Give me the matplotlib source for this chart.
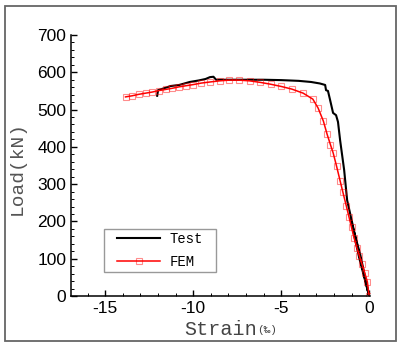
import matplotlib.pyplot as plt
from matplotlib.patches import Rectangle
from matplotlib.ticker import MultipleLocator

plt.rcParams['axes.unicode_minus'] = False

# Test curve (strain in permille, load in kN)
test_strain = [0.0, -0.55, -1.05, -0.5, 0.0, -0.6, -1.25, -1.42, -1.65, -1.77,
               -1.88, -2.05, -2.22, -2.34, -2.45, -2.5, -2.8, -3.3, -4.0, -5.0, -6.0,
               -7.0, -8.0, -8.7, -8.85, -9.05, -9.3, -9.7, -10.2, -10.8, -11.3, -11.6,
               -12.0, -12.05]
test_load = [0, 100, 205, 110, 0, 120, 257, 338, 418, 467,
             485, 491, 526, 550, 552, 566, 570, 574, 577, 579, 580,
             580, 580, 580, 588, 587, 582, 578, 574, 566, 563, 558,
             552, 537]

# FEM curve
fem_strain = [-13.85, -13.47, -13.09, -12.71, -12.33, -11.95, -11.57, -11.2, -10.8, -10.4,
              -10.0, -9.55, -9.05, -8.5, -7.95, -7.4, -6.8, -6.2, -5.6, -5.0, -4.4,
              -3.75, -3.2, -2.9, -2.6, -2.39, -2.2, -2.04, -1.85, -1.65, -1.5, -1.3,
              -1.15, -1.0, -0.85, -0.7, -0.55, -0.4, -0.25, -0.1, 0.0]
fem_load = [534, 537, 541, 544, 547, 551, 554, 557, 561, 564,
            567, 571, 574, 577, 579, 579, 577, 573, 568, 562, 555,
            544, 528, 504, 469, 434, 406, 383, 348, 309, 280, 242,
            213, 184, 155, 130, 107, 85, 62, 38, 0]

W, H = 397, 342
fig = plt.figure(figsize=(W / 100, H / 100), dpi=100)
ax = fig.add_axes([71 / W, 1 - 296 / H, (370 - 71) / W, (296 - 35) / H])

ax.plot(test_strain, test_load, color='black', lw=1.5, label='Test')
ax.plot(fem_strain, fem_load, color='red', lw=1.1, marker='s', ms=4.2,
        mfc='none', mec=(1, 0, 0, 0.45), mew=0.8, label='FEM')

ax.set_xlim(-16.95, 0.05)
ax.set_ylim(0, 700)
ax.xaxis.set_major_locator(MultipleLocator(5))
ax.xaxis.set_minor_locator(MultipleLocator(1))
ax.yaxis.set_major_locator(MultipleLocator(100))
ax.yaxis.set_minor_locator(MultipleLocator(20))

for s in ['top', 'right']:
    ax.spines[s].set_visible(False)
for s in ['left', 'bottom']:
    ax.spines[s].set_linewidth(1.1)

ax.tick_params(which='major', direction='in', length=4.5, width=1.0, pad=3.5)
ax.tick_params(which='minor', direction='in', length=2.5, width=0.7)
for lab in ax.get_xticklabels() + ax.get_yticklabels():
    lab.set_fontfamily('Liberation Sans')
    lab.set_fontsize(12.5)

mono = ['Liberation Mono', 'DejaVu Sans Mono']
ax.set_ylabel('Load(kN)', fontfamily=mono, fontsize=14, color='#555555', va='center')
ax.yaxis.set_label_coords(-0.18, 0.49)
ax.text(0.623, -0.13, 'Strain', transform=ax.transAxes, ha='right', va='center',
        fontfamily=mono, fontsize=14.5, color='#444444')
ax.text(0.623, -0.13, '(‰)', transform=ax.transAxes, ha='left', va='center',
        fontfamily=mono, fontsize=8, color='#444444')

# legend with a hand-drawn frame
ax.add_patch(Rectangle((0.110, 0.092), 0.375, 0.165, transform=ax.transAxes,
                       fill=False, edgecolor='#999999', lw=1.0, clip_on=False))
ax.legend(loc='center', bbox_to_anchor=(0.2975, 0.1745), frameon=False,
          prop={'family': mono, 'size': 10}, handlelength=3.1,
          handletextpad=0.65, labelspacing=0.6, borderpad=0)

# outer border
fig.patches.append(Rectangle((4.7 / W, 1 - 340.7 / H), (395.5 - 4.7) / W, (340.7 - 5.7) / H,
                             transform=fig.transFigure, fill=False,
                             edgecolor='#666666', lw=1.3))

fig.savefig('out.png', dpi=100)
